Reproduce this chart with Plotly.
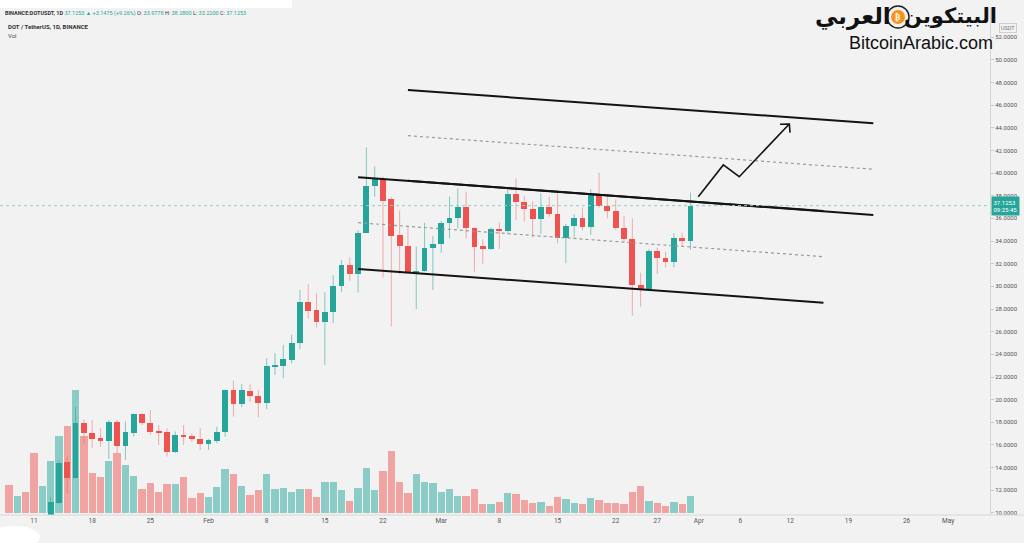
import plotly.graph_objects as go
import pandas as pd

# ---------------- data ----------------
dates = pd.date_range("2021-01-08", "2021-03-31", freq="D")

opens = [9.75, 9.3, 9.6, 9.2, 8.5, 9.3, 10.91, 14.47, 13.12, 17.97, 17.09, 16.59, 16.35, 18.0, 15.94, 17.09, 18.74, 17.97, 17.18, 17.12, 15.41, 16.88, 16.77, 16.53,
         16.09, 16.38, 17.18, 20.86, 19.62, 20.8, 20.33, 19.74, 22.95, 23.0, 23.5, 24.98, 28.6, 27.92, 26.83, 27.77, 30.03, 31.89, 31.07, 34.74, 38.86, 39.45, 37.69, 34.54, 33.59, 31.24, 31.39, 33.42,
         33.74, 35.56, 36.06, 36.98, 35.12, 33.56, 33.3, 35.04, 34.89, 38.13, 37.48, 36.8, 35.92, 37.04, 36.39, 34.24, 35.33, 36.06, 35.27, 38.07, 37.12, 36.65, 35.18, 34.15, 30.12, 29.74, 33.12, 32.53, 32.18, 34.24, 33.9778]
highs = [9.85, 9.8, 9.8, 9.4, 9.6, 11.44, 14.68, 14.97, 19.38, 18.27, 18.2, 17.47, 18.2, 18.2, 18.06, 18.8, 18.8, 19.09, 17.77, 17.47, 17.18, 17.77, 17.03, 17.47,
         16.53, 17.62, 20.9, 21.68, 21.39, 21.36, 20.86, 23.65, 24.1, 24.83, 25.71, 29.68, 30.18, 29.39, 29.48, 31.0, 32.33, 32.57, 34.98, 42.28, 40.59, 39.69, 37.86, 36.7, 35.27, 33.5, 35.62, 34.45,
         35.77, 37.92, 38.66, 38.36, 35.21, 34.15, 35.21, 35.62, 38.75, 39.54, 37.98, 37.48, 38.22, 37.92, 38.22, 35.5, 36.39, 36.95, 38.57, 40.03, 37.92, 37.68, 36.21, 36.01, 31.21, 33.3, 33.42, 33.06, 34.69, 34.74, 38.28]
lows = [8.9, 9.1, 8.8, 7.2, 8.1, 9.0, 10.8, 11.74, 13.1, 16.15, 15.71, 15.85, 14.77, 15.27, 14.68, 16.73, 17.77, 16.88, 16.0, 14.97, 15.27, 16.0, 16.29, 15.56,
        15.56, 16.15, 16.73, 18.5, 19.33, 19.82, 18.45, 19.15, 22.18, 21.89, 23.21, 24.45, 27.18, 26.36, 23.06, 26.74, 29.53, 30.48, 29.44, 34.69, 37.92, 30.78, 26.45, 31.07, 31.16, 27.98, 31.3, 29.68,
        32.97, 34.24, 35.12, 34.24, 31.3, 31.98, 33.21, 33.3, 34.68, 35.86, 35.72, 34.33, 34.62, 36.15, 33.8, 32.04, 34.33, 34.92, 34.54, 36.89, 36.01, 34.98, 33.95, 27.42, 28.21, 29.68, 31.09, 31.69, 31.69, 33.5, 33.22]
closes = [9.3, 9.6, 9.2, 8.5, 9.3, 10.94, 14.44, 13.12, 17.97, 17.03, 16.53, 16.35, 18.0, 15.94, 17.12, 18.74, 17.97, 17.12, 17.09, 15.41, 16.88, 16.74, 16.53, 16.09,
          16.44, 17.18, 20.86, 19.62, 20.86, 20.33, 19.68, 22.97, 23.06, 23.56, 24.98, 28.6, 27.86, 26.83, 27.77, 30.03, 31.89, 31.07, 34.74, 38.86, 39.45, 37.54, 34.45, 33.59, 31.24, 31.39, 33.42, 33.74,
          35.56, 36.06, 37.04, 35.12, 33.5, 33.3, 35.04, 34.89, 38.13, 37.48, 36.8, 35.92, 37.04, 36.39, 34.24, 35.33, 36.01, 35.27, 38.07, 37.12, 36.65, 35.18, 34.15, 30.12, 29.74, 33.12, 32.53, 32.18, 34.24, 33.9778, 37.1253]
volumes = [14.2, 8.8, 10.5, 30.0, 13.7, 26.2, 38.8, 43.7, 61.7, 38.8, 20.0, 18.3, 26.2, 30.0, 24.2, 18.7, 12.2, 15.3, 10.8, 14.5, 14.5, 18.3, 7.8, 10.3,
           8.0, 13.3, 22.0, 19.5, 13.5, 9.2, 11.7, 19.7, 12.3, 12.8, 10.8, 12.2, 12.2, 8.3, 15.5, 15.5, 11.5, 6.2, 12.8, 22.5, 11.7, 21.2, 31.2, 15.5, 10.3, 19.5, 15.8, 15.3,
           10.5, 12.0, 8.8, 8.8, 12.0, 4.7, 4.7, 5.5, 10.0, 9.5, 6.7, 5.3, 5.8, 3.7, 8.3, 7.2, 5.3, 4.5, 7.5, 6.7, 5.3, 5.0, 4.7, 10.5, 13.7, 6.3, 5.0, 3.8, 5.5, 4.5, 8.8]

last_price = 37.1253
price_ticks = list(range(10, 54, 2))
x_tick_dates = ["2021-01-11", "2021-01-18", "2021-01-25", "2021-02-01", "2021-02-08", "2021-02-15", "2021-02-22",
                "2021-03-01", "2021-03-08", "2021-03-15", "2021-03-22", "2021-03-27", "2021-04-01", "2021-04-06",
                "2021-04-12", "2021-04-19", "2021-04-26", "2021-05-01"]
x_tick_text = ["11", "18", "25", "Feb", "8", "15", "22", "Mar", "8", "15", "22", "27", "Apr", "6", "12", "19", "26", "May"]

# drawings (trend channels and projected path) in date/price coordinates
channel1 = {"x": ["2021-02-19", "2021-04-16"], "top": [39.63, 36.65], "mid": [35.62, 32.62], "bot": [31.54, 28.56]}
channel2 = {"x": ["2021-02-25", "2021-04-22"], "top": [47.33, 44.40], "mid": [43.30, 40.34], "bot": [39.33, 36.30]}
path_x = ["2021-03-31 22:34", "2021-04-03 22:48", "2021-04-05 20:53", "2021-04-11 21:21"]
path_y = [37.92, 40.72, 39.68, 44.33]
head_x = ["2021-04-10 18:29", "2021-04-11 21:21", "2021-04-11 23:31"]
head_y = [44.31, 44.33, 43.57]

# ---------------- styling ----------------
GREEN = "#26a69a"
RED = "#ef5350"
BG = "#f2f2f2"
DAY = 86400000

fig = go.Figure()

n = len(dates)
up = [closes[i] >= opens[i] for i in range(n)]

# volume (primary hidden axis)
fig.add_trace(go.Bar(
    x=dates, y=volumes, yaxis="y", width=0.88 * DAY,
    marker=dict(color=["rgba(38,166,154,0.5)" if u else "rgba(239,83,80,0.5)" for u in up], line=dict(width=0)),
    hoverinfo="skip", showlegend=False))

# wicks
for flag, col in [(True, "rgba(38,166,154,0.55)"), (False, "rgba(239,83,80,0.45)")]:
    wx, wy = [], []
    for i in range(n):
        if up[i] == flag:
            wx += [dates[i], dates[i], None]
            wy += [lows[i], highs[i], None]
    fig.add_trace(go.Scatter(x=wx, y=wy, yaxis="y2", mode="lines", line=dict(color=col, width=1),
                             hoverinfo="skip", showlegend=False))

# bodies
for flag, col in [(True, GREEN), (False, RED)]:
    idx = [i for i in range(n) if up[i] == flag]
    fig.add_trace(go.Bar(
        x=[dates[i] for i in idx],
        base=[min(opens[i], closes[i]) for i in idx],
        y=[max(abs(closes[i] - opens[i]), 0.09) for i in idx],
        yaxis="y2", width=0.7 * DAY,
        marker=dict(color=col, line=dict(width=0)),
        hoverinfo="skip", showlegend=False))

# channels
for ch in (channel1, channel2):
    for key, dash, colr, w in [("top", "solid", "#131313", 2), ("bot", "solid", "#131313", 2), ("mid", "dot", "#9a9a9a", 1.2)]:
        fig.add_trace(go.Scatter(x=ch["x"], y=ch[key], yaxis="y2", mode="lines",
                                 line=dict(color=colr, width=w, dash=dash), hoverinfo="skip", showlegend=False))

# projected path + arrow head
fig.add_trace(go.Scatter(x=path_x, y=path_y, yaxis="y2", mode="lines",
                         line=dict(color="#131313", width=1.6), hoverinfo="skip", showlegend=False))
fig.add_trace(go.Scatter(x=head_x, y=head_y, yaxis="y2", mode="lines",
                         line=dict(color="#131313", width=1.6), hoverinfo="skip", showlegend=False))

# last price dotted line
fig.add_shape(type="line", xref="paper", x0=0, x1=1, yref="y2", y0=last_price, y1=last_price,
              line=dict(color="#8fd0c8", width=1, dash="dot"))

# pixel -> paper helpers for decorations (plot area: x 0..990, y 8..515)
def pxx(v):
    return v / 990.0

def pyy(v):
    return (515.0 - v) / 507.0

annotations = []
# price label on axis
annotations.append(dict(xref="paper", yref="y2", x=1.0, y=last_price, xanchor="left", yanchor="middle",
                        text="37.1253<br>09:25:45", showarrow=False, bgcolor=GREEN, borderpad=1.5,
                        font=dict(family="Roboto", size=6, color="white"), align="left", xshift=1))
# USDT box
annotations.append(dict(xref="paper", yref="paper", x=pxx(1008), y=pyy(28), xanchor="center", yanchor="middle",
                        text="USDT", showarrow=False, bordercolor="#cfcfcf", borderwidth=1, borderpad=1,
                        font=dict(family="Roboto", size=5.5, color="#777")))
# header
hdr = ("<b>BINANCE:DOTUSDT, 1D</b> <span style='color:#26a69a'>37.1253 ▲ +3.1475 (+9.26%)</span> "
       "O: <span style='color:#26a69a'>33.9778</span> H: <span style='color:#26a69a'>38.2800</span> "
       "L: <span style='color:#26a69a'>33.2200</span> C: <span style='color:#26a69a'>37.1253</span>")
annotations.append(dict(xref="paper", yref="paper", x=pxx(3), y=pyy(13), xanchor="left", yanchor="middle",
                        text=hdr, showarrow=False, font=dict(family="Roboto", size=5.5, color="#333")))
annotations.append(dict(xref="paper", yref="paper", x=pxx(6), y=pyy(27), xanchor="left", yanchor="middle",
                        text="<b>DOT / TetherUS, 1D, BINANCE</b>", showarrow=False,
                        font=dict(family="Roboto", size=6, color="#333")))
annotations.append(dict(xref="paper", yref="paper", x=pxx(6), y=pyy(36), xanchor="left", yanchor="middle",
                        text="Vol", showarrow=False, font=dict(family="Roboto", size=6, color="#444")))
# logo
annotations.append(dict(xref="paper", yref="paper", x=pxx(853), y=pyy(17), xanchor="center", yanchor="middle",
                        text="<b>العربي</b>", showarrow=False, font=dict(family="DejaVu Sans", size=23, color="#111")))
annotations.append(dict(xref="paper", yref="paper", x=pxx(950), y=pyy(16), xanchor="center", yanchor="middle",
                        text="<b>البيتكوين</b>", showarrow=False, font=dict(family="DejaVu Sans", size=21, color="#111")))
annotations.append(dict(xref="paper", yref="paper", x=pxx(898), y=pyy(17), xanchor="center", yanchor="middle",
                        text="<b>₿</b>", showarrow=False, font=dict(family="DejaVu Sans", size=8, color="white")))
annotations.append(dict(xref="paper", yref="paper", x=pxx(921), y=pyy(43), xanchor="center", yanchor="middle",
                        text="BitcoinArabic.com", showarrow=False,
                        font=dict(family="Liberation Sans", size=18, color="#111")))

shapes_extra = [
    dict(type="circle", xref="paper", yref="paper", x0=pxx(887), x1=pxx(909), y0=pyy(28), y1=pyy(6),
         line=dict(color="#222", width=1.5), fillcolor="rgba(0,0,0,0)"),
    dict(type="circle", xref="paper", yref="paper", x0=pxx(891), x1=pxx(905), y0=pyy(24), y1=pyy(10),
         line=dict(color="#f7931a", width=0), fillcolor="#f7931a"),
    dict(type="line", xref="paper", yref="paper", x0=0, x1=1.0344, y0=0, y1=0,
         line=dict(color="#d6d6d6", width=1)),
    dict(type="rect", xref="paper", yref="paper", x0=0, x1=pxx(292), y0=pyy(8), y1=pyy(-1),
         line=dict(width=0), fillcolor="white"),
    dict(type="circle", xref="paper", yref="paper", x0=pxx(-12), x1=pxx(40), y0=pyy(548), y1=pyy(526),
         line=dict(width=0), fillcolor="white"),
]
for s in shapes_extra:
    fig.add_shape(**s)

fig.update_layout(
    width=1024, height=543,
    margin=dict(l=0, r=34, t=8, b=28),
    paper_bgcolor=BG, plot_bgcolor=BG,
    barmode="overlay", bargap=0,
    showlegend=False,
    annotations=annotations,
    xaxis=dict(type="date", range=["2021-01-06 21:49", "2021-05-06 00:58"],
               tickvals=x_tick_dates, ticktext=x_tick_text, showgrid=False, zeroline=False,
               tickfont=dict(family="Roboto", size=6.5, color="#555"), ticks="", ticklen=0,
               showline=False, fixedrange=True),
    yaxis=dict(range=[-0.85, 252.65], visible=False, showgrid=False, zeroline=False, fixedrange=True),
    yaxis2=dict(overlaying="y", side="right", range=[9.82, 54.57], tickvals=price_ticks,
                ticktext=["%.4f" % v for v in price_ticks], showgrid=False, zeroline=False,
                tickfont=dict(family="Roboto", size=6, color="#555"), ticks="outside", ticklen=3,
                tickcolor="#c8c8c8", showline=True, linecolor="#d6d6d6", linewidth=1, fixedrange=True),
)

fig.write_html("out.html")
